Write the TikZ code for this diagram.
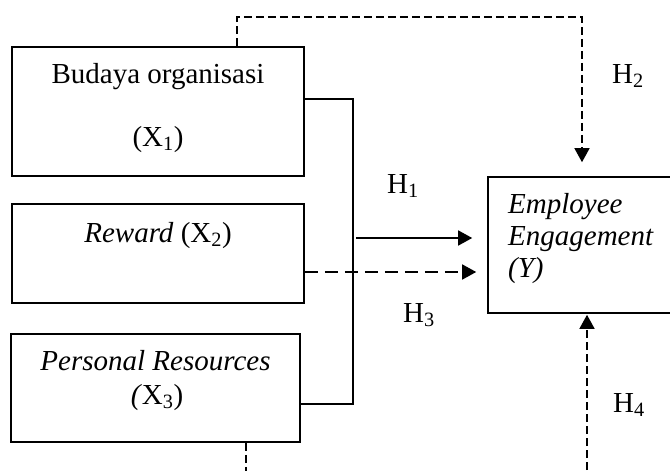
\documentclass[tikz,border=0pt]{standalone}
\usepackage{fontspec}
\setmainfont{Liberation Serif}
\usetikzlibrary{arrows.meta}
\begin{document}
\begin{tikzpicture}[x=1pt,y=-1pt,
  box/.style={draw, line width=1.6pt, rectangle, inner sep=0pt},
  txt/.style={inner sep=0pt, font=\fontsize{29}{34}\selectfont},
  conn/.style={line width=1.5pt},
  tip/.style={-{Triangle[width=15pt,length=14pt]}},
  shortdash/.style={dash pattern=on 8pt off 4pt},
  longdash/.style={dash pattern=on 13pt off 7pt}]
\useasboundingbox (0,0) rectangle (670,471);
\clip (0,0) rectangle (670,471);
% boxes
\node[box, minimum width=292pt, minimum height=129pt] (b1) at (158,111.5) {};
\node[box, minimum width=292pt, minimum height=99pt] (b2) at (158,253.5) {};
\node[box, minimum width=289pt, minimum height=108pt] (b3) at (155.5,388) {};
\node[box, minimum width=212pt, minimum height=136pt] (by) at (594,245) {};
% texts
\node[txt, anchor=base] (t1a) at (158,83) {Budaya organisasi};
\node[txt, anchor=base] (t1b) at (158,146) {(X\textsubscript{1})};
\node[txt, anchor=base] (t2) at (158,242) {\textit{Reward} (X\textsubscript{2})};
\node[txt, anchor=base] (t3a) at (155.5,370) {\textit{Personal Resources}};
\node[txt, anchor=base] (t3b) at (157,404) {\textit{(}X\textsubscript{3})};
\node[txt, anchor=base west] (tya) at (508,213) {\textit{Employee}};
\node[txt, anchor=base west] (tyb) at (508,245) {\textit{Engagement}};
\node[txt, anchor=base west] (tyc) at (508,277) {\textit{(Y)}};
\node[txt, anchor=base west] (h1) at (387,193) {H\textsubscript{1}};
\node[txt, anchor=base west] (h2) at (612,83) {H\textsubscript{2}};
\node[txt, anchor=base west] (h3) at (403,322) {H\textsubscript{3}};
\node[txt, anchor=base west] (h4) at (613,412) {H\textsubscript{4}};
% coordinates
\coordinate (bt) at (353,99);
\coordinate (bb) at (353,404);
\coordinate (a1) at (356,238);
\coordinate (top1) at (237,17);
\coordinate (top2) at (582,17);
\coordinate (bot1) at (246,490);
\coordinate (bot2) at (587,490);
% bus (solid)
\draw[conn] (b1.east |- bt) -- (bt) -- (bb) -- (b3.east |- bb);
% H1 solid arrow
\draw[conn, tip, shorten >=15pt] (a1) -- (by.west |- a1);
% H3 dashed arrow
\draw[conn, tip, longdash, shorten >=11pt] (b2.east |- 0,272) -- (by.west |- 0,272);
% H2 dashed route
\draw[conn, tip, shortdash, shorten >=14pt] (b1.north -| top1) -- (top1) -- (top2) -- (by.north -| top2);
% H4 dashed route
\draw[conn, tip, shortdash, shorten >=1pt] (b3.south -| bot1) -- (bot1) -- (bot2) -- (by.south -| bot2);
\end{tikzpicture}
\end{document}
